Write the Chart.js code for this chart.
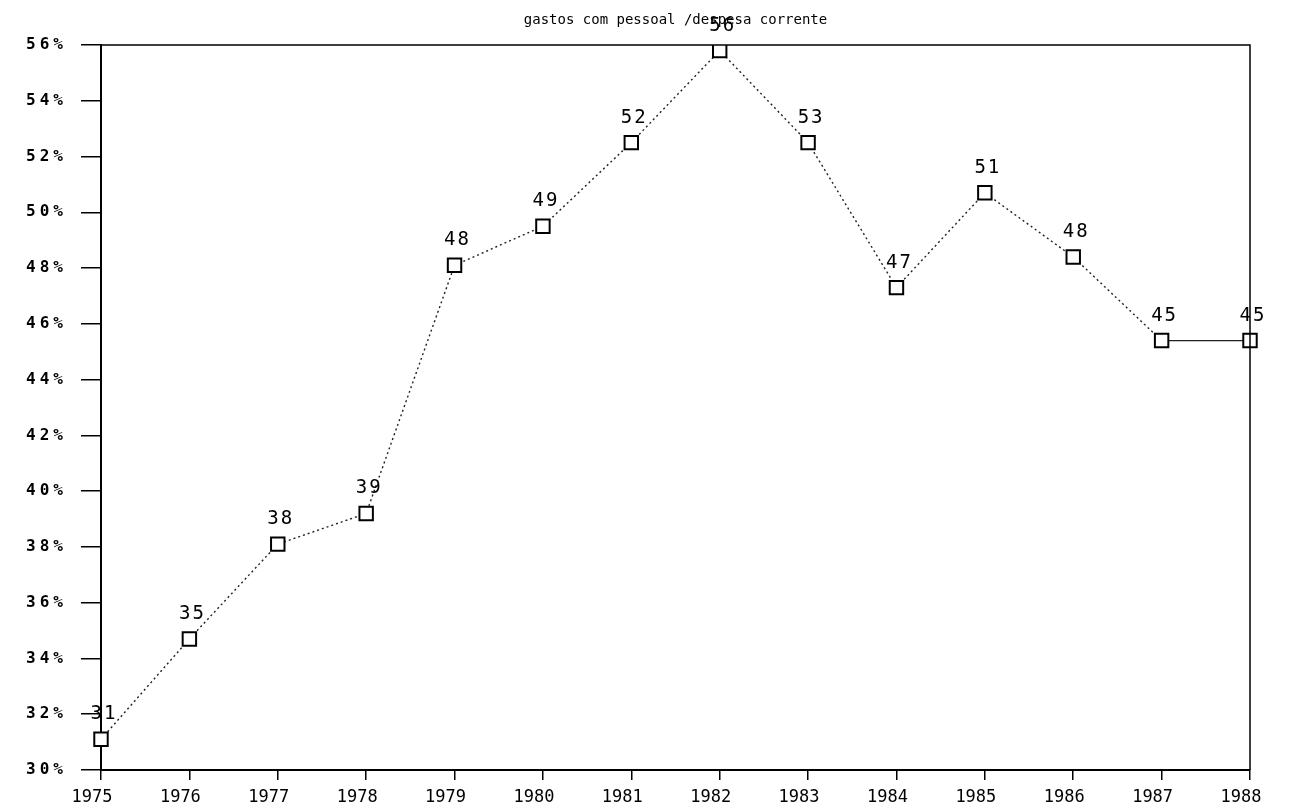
<!DOCTYPE html>
<html>
<head>
<meta charset="utf-8">
<script src="https://cdn.jsdelivr.net/npm/chart.js@4/dist/chart.umd.min.js"></script>
<style>
  html, body { margin: 0; padding: 0; background: #fff; }
  #wrap { width: 1289px; height: 812px; }
</style>
</head>
<body>
<div id="wrap"><canvas id="grafico"></canvas></div>
<script>
var anos = ['1975','1976','1977','1978','1979','1980','1981','1982','1983','1984','1985','1986','1987','1988'];
var percentagem = [31.1, 34.7, 38.1, 39.2, 48.1, 49.5, 52.5, 55.8, 52.5, 47.3, 50.7, 48.4, 45.4, 45.4];
var rotulos = ['31','35','38','39','48','49','52','56','53','47','51','48','45','45'];
var titulo = 'gastos com pessoal /despesa corrente';

var fonte = '"DejaVu Sans Mono", "Liberation Mono", monospace';

// titulo e rotulos dos pontos
var escreve = {
  id: 'escreve',
  afterDatasetsDraw: function (chart) {
    var c = chart.ctx, area = chart.chartArea;
    c.save();
    c.fillStyle = '#000';
    c.textAlign = 'center';
    c.textBaseline = 'middle';
    c.font = '14px ' + fonte;
    c.letterSpacing = '0px';
    c.fillText(titulo, (area.left + area.right) / 2, 20);
    c.font = '19px ' + fonte;
    c.letterSpacing = '2px';
    chart.getDatasetMeta(0).data.forEach(function (p, i) {
      c.fillText(rotulos[i], p.x + 3, p.y - 25);
    });
    c.restore();
  }
};

var ctx = document.getElementById('grafico').getContext('2d');
var grafico = new Chart(ctx, {
  type: 'line',
  data: {
    labels: anos,
    datasets: [{
      label: 'gastos com pessoal',
      data: percentagem,
      borderColor: '#222',
      borderWidth: 1.4,
      borderDash: [2, 3],
      segment: {
        borderDash: function (s) { return s.p1DataIndex === anos.length - 1 ? [] : [2, 3]; }
      },
      pointStyle: 'rect',
      pointRadius: 9.5,
      pointBorderWidth: 2,
      pointBorderColor: '#000',
      pointBackgroundColor: '#fff',
      tension: 0
    }]
  },
  options: {
    responsive: true,
    maintainAspectRatio: false,
    animation: false,
    layout: { padding: { top: 45, right: 39, left: 0, bottom: 0 } },
    plugins: { legend: { display: false }, tooltip: { enabled: false } },
    scales: {
      x: {
        offset: false,
        border: { color: '#000', width: 2 },
        grid: { drawOnChartArea: false, color: '#000', tickLength: 10, lineWidth: 1.5 },
        ticks: { color: '#000', font: { family: fonte, size: 17 }, padding: 7, labelOffset: -9, maxRotation: 0, autoSkip: false },
        afterFit: function (s) { s.height = 42; }
      },
      y: {
        min: 30,
        max: 56,
        border: { color: '#000', width: 2 },
        grid: { drawOnChartArea: false, color: '#000', tickLength: 20, lineWidth: 1.5 },
        ticks: {
          stepSize: 2,
          color: '#000',
          font: { family: fonte, size: 16, weight: 'bold' },
          padding: 14,
          callback: function (v) { return v + '%'; }
        },
        afterFit: function (s) { s.width = 101; }
      }
    }
  },
  plugins: [escreve, {
    id: 'moldura',
    afterDraw: function (chart) {
      var c = chart.ctx, a = chart.chartArea;
      c.save();
      c.strokeStyle = '#000';
      c.lineWidth = 1.5;
      c.beginPath();
      c.moveTo(a.left, a.top);
      c.lineTo(a.right, a.top);
      c.lineTo(a.right, a.bottom);
      c.stroke();
      c.restore();
    }
  }]
});

// espacamento entre letras nos rotulos do eixo y
var desenhaY = grafico.scales.y.drawLabels;
grafico.scales.y.drawLabels = function (a) {
  this.ctx.letterSpacing = '4px';
  desenhaY.call(this, a);
  this.ctx.letterSpacing = '0px';
};
grafico.update('none');
</script>
</body>
</html>
